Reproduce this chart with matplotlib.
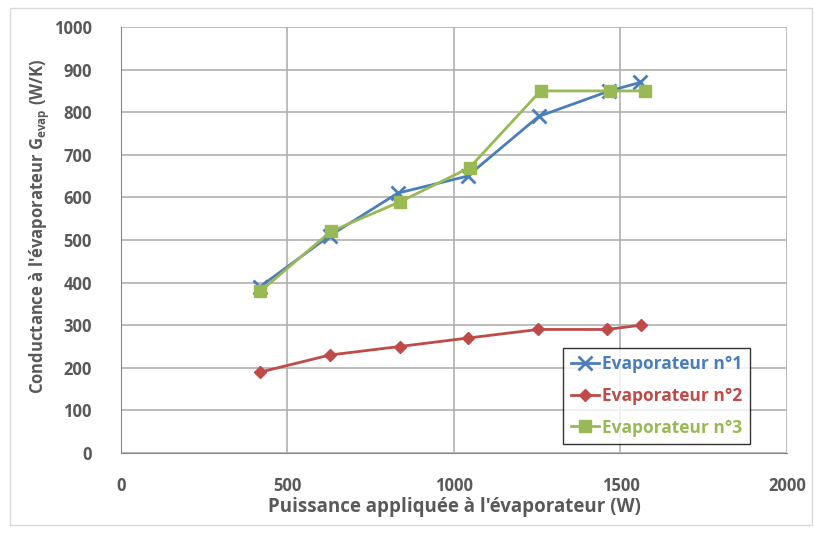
import matplotlib
matplotlib.use("Agg")
import matplotlib.pyplot as plt
from matplotlib.patches import Rectangle

# values
x_evap1 = [417, 627, 831, 1041, 1254, 1467, 1560]
g_evap1 = [390, 510, 610, 650, 790, 850, 870]
x_evap2 = [419, 627, 837, 1043, 1253, 1459, 1561]
g_evap2 = [190, 230, 250, 270, 290, 290, 300]
x_evap3 = [419, 630, 839, 1047, 1260, 1469, 1573]
g_evap3 = [380, 520, 590, 670, 850, 850, 850]
labels = ["Evaporateur n°1", "Evaporateur n°2", "Evaporateur n°3"]
colors = ["#4a7ebb", "#be4b48", "#98b954"]
txt_gray = "#595959"

plt.rcParams['font.family'] = ['Open Sans', 'DejaVu Sans']
plt.rcParams['font.weight'] = 'bold'

fig = plt.figure(figsize=(8.14, 5.33), dpi=100)
ax = fig.add_axes([0.1486, 0.1501, 0.8182, 0.7992])

ax.plot(x_evap1, g_evap1, color=colors[0], lw=2, marker='x', ms=10, mew=2, label=labels[0])
ax.plot(x_evap2, g_evap2, color=colors[1], lw=2, marker='D', ms=6.5, label=labels[1])
ax.plot(x_evap3, g_evap3, color=colors[2], lw=2, marker='s', ms=8.5, label=labels[2])

ax.set_xlim(0, 2000)
ax.set_ylim(0, 1000)
ax.set_xticks(range(0, 2001, 500))
ax.set_yticks(range(0, 1001, 100))
ax.grid(True, color="#b0b0b0", lw=1.2)
ax.set_axisbelow(True)
for s in ['top', 'right']:
    ax.spines[s].set_visible(False)
for s in ['left', 'bottom']:
    ax.spines[s].set_color("#868686")
ax.tick_params(length=0, labelsize=12, labelcolor=txt_gray)
ax.tick_params(axis='y', pad=21)
ax.tick_params(axis='x', pad=17)

ax.set_xlabel("Puissance appliquée à l'évaporateur (W)", fontsize=13.5,
              color=txt_gray, fontweight='bold', labelpad=2)
ax.set_ylabel(r"Conductance à l'évaporateur G$_\mathregular{evap}$ (W/K)", fontsize=12,
              color=txt_gray, fontweight='bold', va='center')
ax.yaxis.set_label_coords(-0.122, 0.533)

leg = ax.legend(loc='lower right', bbox_to_anchor=(0.957, 0.0),
                frameon=True, fancybox=False, borderpad=0.45, handlelength=1.6,
                handletextpad=0.15, labelspacing=0.78, prop={'weight': 'bold', 'size': 12.5})
leg.get_frame().set_edgecolor('black')
leg.get_frame().set_linewidth(1.0)
for t, c in zip(leg.get_texts(), colors):
    t.set_color(c)

fig.patches.append(Rectangle((10 / 814, 8 / 533), 802 / 814, 517 / 533,
                             transform=fig.transFigure, fill=False,
                             edgecolor="#d9d9d9", lw=1))

fig.savefig("out.png", dpi=100)
